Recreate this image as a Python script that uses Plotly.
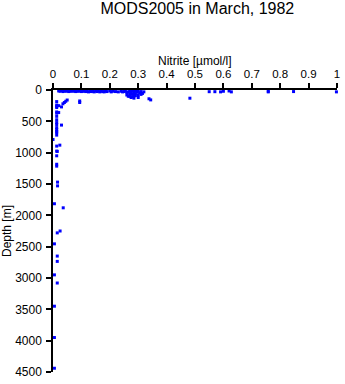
import plotly.graph_objects as go

# Nitrite [umol/l] values and depths [m]
nitrite_surface = [0.02, 0.025, 0.03, 0.035, 0.04, 0.045, 0.05, 0.055, 0.06, 0.065,
                   0.07, 0.075, 0.08, 0.085, 0.09, 0.095, 0.10, 0.105, 0.11, 0.115,
                   0.12, 0.125, 0.13, 0.135, 0.14, 0.145, 0.15, 0.155, 0.16, 0.165,
                   0.17, 0.175, 0.18, 0.185, 0.19, 0.20, 0.205, 0.21, 0.22, 0.23,
                   0.24, 0.245, 0.25]
depth_surface = [15, 20, 10, 25, 15, 20, 10, 25, 15, 20,
                 10, 20, 25, 15, 20, 10, 25, 20, 15, 25,
                 20, 30, 15, 25, 20, 30, 15, 25, 20, 30,
                 15, 25, 30, 20, 25, 15, 30, 20, 25, 30,
                 20, 30, 25]

nitrite_cluster = [0.255, 0.26, 0.26, 0.265, 0.27, 0.27, 0.27, 0.275, 0.275, 0.28,
                   0.28, 0.28, 0.285, 0.285, 0.29, 0.29, 0.29, 0.295, 0.30, 0.30,
                   0.305, 0.31, 0.31, 0.315, 0.32, 0.265, 0.275, 0.285, 0.295, 0.30,
                   0.338, 0.344, 0.482]
depth_cluster = [20, 40, 80, 30, 10, 60, 100, 40, 120, 20,
                 70, 110, 50, 130, 15, 60, 90, 35, 20, 80,
                 45, 25, 70, 55, 30, 100, 5, 95, 5, 120,
                 140, 158, 131]

nitrite_high = [0.55, 0.57, 0.59, 0.60, 0.62, 0.628, 0.758, 0.758, 0.847, 0.998]
depth_high = [27, 27, 30, 20, 15, 30, 20, 30, 25, 30]

nitrite_deep = [0.013, 0.013, 0.013, 0.013, 0.013, 0.013, 0.013, 0.013, 0.013, 0.013,
                0.013, 0.013, 0.013, 0.013, 0.013, 0.013, 0.013, 0.013, 0.02, 0.03,
                0.02, 0.03, 0.035, 0.04, 0.045, 0.05, 0.094, 0.094, 0.0, 0.024,
                0.015, 0.013, 0.013, 0.016, 0.016, 0.005, 0.036, 0.015, 0.025,
                0.005, 0.015, 0.015, 0.005, 0.015, 0.005, 0.005, 0.005]
depth_deep = [185, 240, 260, 280, 350, 370, 420, 475, 520, 550, 600, 630, 660, 680,
              720, 895, 975, 1050, 250, 270, 360, 560, 220, 200, 180, 160, 175, 200,
              790, 880, 980, 1185, 1215, 1470, 1530, 1815, 1880, 2280, 2250,
              2455, 2650, 2735, 2950, 3080, 3450, 3950, 4440]

x_vals = nitrite_surface + nitrite_cluster + nitrite_high + nitrite_deep
y_vals = depth_surface + depth_cluster + depth_high + depth_deep

x_ticks = [0, 0.1, 0.2, 0.3, 0.4, 0.5, 0.6, 0.7, 0.8, 0.9, 1]
x_tick_labels = ["0", "0.1", "0.2", "0.3", "0.4", "0.5", "0.6", "0.7", "0.8", "0.9", "1"]
y_ticks = [0, 500, 1000, 1500, 2000, 2500, 3000, 3500, 4000, 4500]

fig = go.Figure()
fig.add_trace(go.Scatter(
    x=x_vals, y=y_vals, mode="markers",
    marker=dict(symbol="square", size=3, color="#0000ff", line=dict(width=0)),
    cliponaxis=False, showlegend=False, hoverinfo="skip"))

font_family = "Liberation Sans, Arial, sans-serif"
fig.update_layout(
    width=345, height=384,
    margin=dict(l=53, r=5, t=90, b=9),
    paper_bgcolor="white", plot_bgcolor="white",
    font=dict(family=font_family, size=12, color="black"),
    title=dict(text="MODS2005 in March, 1982", x=0.572, xanchor="center",
               y=0.978, yanchor="middle", font=dict(size=16, family=font_family)),
    annotations=[dict(text="Nitrite [µmol/l]", xref="paper", yref="paper",
                      x=0.5, y=1.102, xanchor="center", yanchor="middle",
                      showarrow=False, font=dict(size=12))],
)
fig.update_xaxes(
    side="top", range=[0, 1], tickvals=x_ticks, ticktext=x_tick_labels,
    ticks="outside", ticklen=5, tickwidth=1.5, tickcolor="black",
    showline=True, linecolor="black", linewidth=1.5, showgrid=False, zeroline=False,
    tickfont=dict(size=11.5), ticklabelstandoff=1,
)
fig.update_yaxes(
    range=[4500, 0], tickvals=y_ticks,
    ticks="outside", ticklen=5, tickwidth=1.5, tickcolor="black",
    showline=True, linecolor="black", linewidth=1.5, showgrid=False, zeroline=False,
    title=dict(text="Depth [m]", font=dict(size=12), standoff=2),
    tickfont=dict(size=12), ticklabelstandoff=2,
)

fig.write_html("out.html")
